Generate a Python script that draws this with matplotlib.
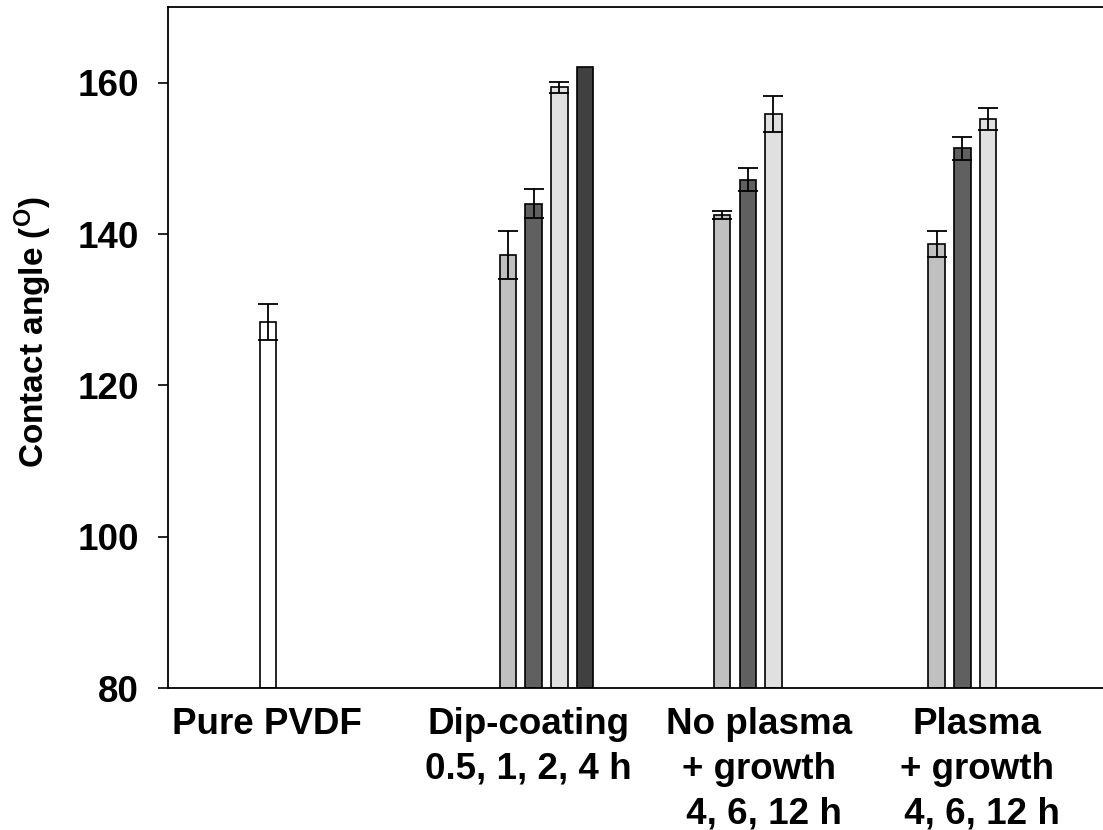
import matplotlib
matplotlib.use("Agg")
import matplotlib.pyplot as plt
import numpy as np

plt.rcParams['font.family'] = ['Liberation Sans', 'DejaVu Sans']
plt.rcParams['font.weight'] = 'bold'
plt.rcParams['mathtext.fontset'] = 'custom'
plt.rcParams['mathtext.rm'] = 'Liberation Sans:bold'
plt.rcParams['mathtext.it'] = 'Liberation Sans:bold'
plt.rcParams['mathtext.bf'] = 'Liberation Sans:bold'

# ---- data ----
categories = ['Pure PVDF',
              'Dip-coating\n0.5, 1, 2, 4 h',
              'No plasma\n+ growth\n 4, 6, 12 h',
              'Plasma\n+ growth\n 4, 6, 12 h']
pure_vals = [128.4]
pure_err = [2.4]
dip_vals = [137.2, 144.0, 159.4, 162.1]
dip_err = [3.2, 1.9, 0.7, np.nan]
noplasma_vals = [142.5, 147.2, 155.9]
noplasma_err = [0.5, 1.5, 2.4]
plasma_vals = [138.7, 151.3, 155.2]
plasma_err = [1.7, 1.5, 1.45]
y_ticks = [80, 100, 120, 140, 160]

# ---- styles / layout ----
pure_colors = ['white']
dip_colors = ['#c0c0c0', '#606060', '#e0e0e0', '#404040']
grp_colors = ['#c0c0c0', '#606060', '#e0e0e0']

group_start = [3.89, 13.23, 21.56, 29.91]
label_pos = [3.85, 14.02, 22.98, 31.46]
bar_w = 0.64
slot = 1.0

fig = plt.figure(figsize=(11.03, 8.30), dpi=100)
ax = fig.add_axes([168/1103, 1 - 688/830, (1103 - 168)/1103, (688 - 7)/830])

groups = [(pure_vals, pure_err, pure_colors),
          (dip_vals, dip_err, dip_colors),
          (noplasma_vals, noplasma_err, grp_colors),
          (plasma_vals, plasma_err, grp_colors)]

for start, (vals, errs, cols) in zip(group_start, groups):
    xs = start + slot * np.arange(len(vals))
    ax.bar(xs, np.array(vals) - 80, bottom=80, width=bar_w, color=cols,
           edgecolor='black', linewidth=1.2, zorder=2)
    errs = np.array(errs, dtype=float)
    m = ~np.isnan(errs)
    ax.errorbar(xs[m], np.array(vals)[m], yerr=errs[m], fmt='none',
                ecolor='black', elinewidth=1.3, capsize=7.5, capthick=1.3,
                zorder=3)

ax.set_xlim(0, 935 / 25.7)
ax.set_ylim(80, 170)
ax.set_yticks(y_ticks)
ax.set_xticks(label_pos)
ax.set_xticklabels(categories, fontsize=26.5, fontweight='bold')
for t in ax.get_xticklabels():
    t.set_linespacing(1.35)
ax.tick_params(axis='x', length=0, pad=14)
ax.tick_params(axis='y', direction='out', length=7, width=1.2, pad=14,
               labelsize=26.5)
for t in ax.get_yticklabels():
    t.set_fontweight('bold')

for s in ['left', 'bottom', 'top']:
    ax.spines[s].set_linewidth(1.3)
ax.spines['right'].set_visible(False)

ax.set_ylabel(r'Contact angle ($\mathregular{^{O}}$)', fontsize=24,
              fontweight='bold')
ax.yaxis.set_label_coords(-0.122, 0.523)

fig.savefig('out.png', dpi=100)
